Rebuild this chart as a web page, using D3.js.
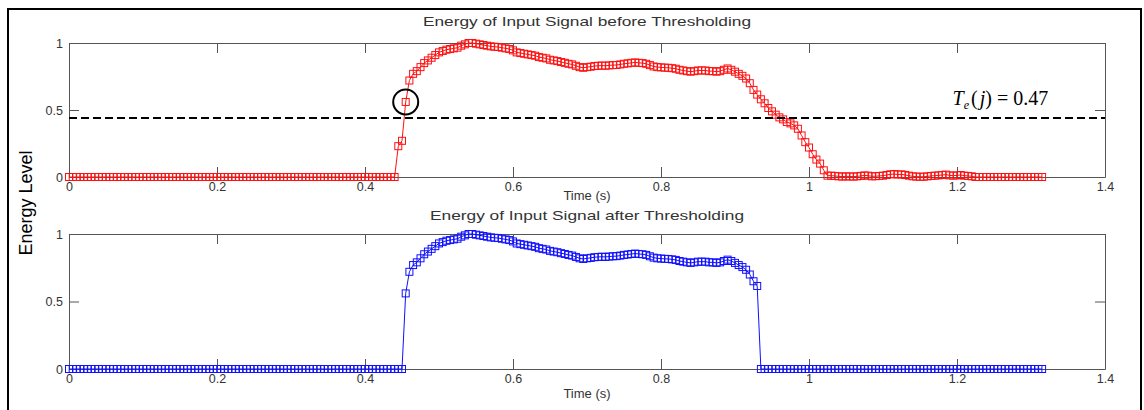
<!DOCTYPE html>
<html><head><meta charset="utf-8">
<script src="https://cdn.jsdelivr.net/npm/d3@7/dist/d3.min.js"></script>
<style>body{margin:0;background:#fff} svg{display:block}</style>
</head><body>
<svg id="chart" width="1144" height="410"></svg>
<script>
// frame spacing of the energy samples (seconds)
const sampleStep = 0.005;

// Energy before thresholding (one value per frame)
const energyBefore = [
0,0,0,0,0,0,0,0,0,0,
0,0,0,0,0,0,0,0,0,0,
0,0,0,0,0,0,0,0,0,0,
0,0,0,0,0,0,0,0,0,0,
0,0,0,0,0,0,0,0,0,0,
0,0,0,0,0,0,0,0,0,0,
0,0,0,0,0,0,0,0,0,0,
0,0,0,0,0,0,0,0,0,0,
0,0,0,0,0,0,0,0,0,0.23,
0.27,0.56,0.72,0.77,0.79,0.82,0.85,0.87,0.89,0.91,
0.93,0.94,0.95,0.955,0.96,0.965,0.98,0.99,1.0,1.0,
0.995,0.99,0.985,0.98,0.975,0.972,0.97,0.965,0.96,0.955,
0.945,0.93,0.925,0.92,0.915,0.91,0.905,0.895,0.89,0.885,
0.875,0.87,0.865,0.858,0.852,0.845,0.84,0.83,0.82,0.815,
0.82,0.823,0.828,0.83,0.832,0.83,0.833,0.835,0.836,0.84,
0.845,0.848,0.852,0.855,0.852,0.85,0.845,0.835,0.825,0.82,
0.818,0.816,0.815,0.812,0.808,0.80,0.795,0.79,0.786,0.79,
0.795,0.795,0.795,0.79,0.79,0.786,0.79,0.80,0.81,0.80,
0.786,0.77,0.755,0.735,0.70,0.65,0.615,0.58,0.55,0.515,
0.49,0.465,0.445,0.43,0.41,0.40,0.385,0.36,0.31,0.26,
0.22,0.17,0.13,0.10,0.05,0.01,0.01,0.008,0.005,0.003,
0.005,0.004,0.003,0.005,0.008,0.012,0.01,0.005,0.006,0.008,
0.01,0.015,0.02,0.022,0.018,0.02,0.015,0.01,0.005,0.003,
0.002,0.002,0.005,0.008,0.01,0.012,0.015,0.018,0.012,0.01,
0.012,0.015,0.01,0.008,0.005,0,0,0,0,0,
0,0,0,0,0,0,0,0,0,0,
0,0,0,0
];

// Energy after thresholding
const energyAfter = [
0,0,0,0,0,0,0,0,0,0,
0,0,0,0,0,0,0,0,0,0,
0,0,0,0,0,0,0,0,0,0,
0,0,0,0,0,0,0,0,0,0,
0,0,0,0,0,0,0,0,0,0,
0,0,0,0,0,0,0,0,0,0,
0,0,0,0,0,0,0,0,0,0,
0,0,0,0,0,0,0,0,0,0,
0,0,0,0,0,0,0,0,0,0,
0,0.56,0.72,0.77,0.79,0.82,0.85,0.87,0.89,0.91,
0.93,0.94,0.95,0.955,0.96,0.965,0.98,0.99,1.0,1.0,
0.995,0.99,0.985,0.98,0.975,0.972,0.97,0.965,0.96,0.955,
0.945,0.93,0.925,0.92,0.915,0.91,0.905,0.895,0.89,0.885,
0.875,0.87,0.865,0.858,0.852,0.845,0.84,0.83,0.82,0.815,
0.82,0.823,0.828,0.83,0.832,0.83,0.833,0.835,0.836,0.84,
0.845,0.848,0.852,0.855,0.852,0.85,0.845,0.835,0.825,0.82,
0.818,0.816,0.815,0.812,0.808,0.80,0.795,0.79,0.786,0.79,
0.795,0.795,0.795,0.79,0.79,0.786,0.79,0.80,0.81,0.80,
0.786,0.77,0.755,0.735,0.70,0.65,0.615,0,0,0,
0,0,0,0,0,0,0,0,0,0,
0,0,0,0,0,0,0,0,0,0,
0,0,0,0,0,0,0,0,0,0,
0,0,0,0,0,0,0,0,0,0,
0,0,0,0,0,0,0,0,0,0,
0,0,0,0,0,0,0,0,0,0,
0,0,0,0,0,0,0,0,0,0,
0,0,0,0
];

const thresholdLevel = 0.44;          // where the dashed line is drawn
const thresholdText = "0.47";         // value printed in the annotation
const highlightIndex = 91;            // circled sample
const xTicks = [0, 0.2, 0.4, 0.6, 0.8, 1, 1.2, 1.4];
const xTickLabels = ["0", "0.2", "0.4", "0.6", "0.8", "1", "1.2", "1.4"];
const yTicks = [0, 0.5, 1];
const yTickLabels = ["0", "0.5", "1"];
const panelTitles = ["Energy of Input Signal before Thresholding", "Energy of Input Signal after Thresholding"];
const xAxisTitle = "Time (s)";
const yAxisTitle = "Energy Level";

const svg = d3.select("#chart");
const font = "'Liberation Sans', Arial, sans-serif";
const axisColor = "#555";
const textColor = "#333";

// outer frame
svg.append("rect").attr("x", 8).attr("y", 9).attr("width", 1133).attr("height", 420)
  .attr("fill", "#fff").attr("stroke", "#000").attr("stroke-width", 2);

const x = d3.scaleLinear().domain([0, 1.4]).range([69, 1105]);

const panels = [
  { data: energyBefore, top: 43, bottom: 177, color: "#ff1010", title: panelTitles[0], titleLen: 328, titleY: 26, xlabY: 200 },
  { data: energyAfter,  top: 234, bottom: 369, color: "#1010ff", title: panelTitles[1], titleLen: 314, titleY: 220, xlabY: 398 }
];

panels.forEach((p, pi) => {
  const y = d3.scaleLinear().domain([0, 1]).range([p.bottom, p.top]);
  p.y = y;
  const g = svg.append("g");

  const styleAxis = sel => {
    sel.selectAll("path").attr("stroke", axisColor);
    sel.selectAll("line").attr("stroke", axisColor);
    sel.selectAll("text").attr("fill", textColor).style("font-family", font).style("font-size", "12.5px");
  };

  g.append("g").attr("transform", `translate(0,${p.bottom})`)
    .call(d3.axisBottom(x).tickValues(xTicks).tickFormat((d, i) => xTickLabels[i]).tickSize(-10).tickSizeOuter(0).tickPadding(5))
    .call(styleAxis);
  g.append("g").attr("transform", `translate(0,${p.top})`)
    .call(d3.axisTop(x).tickValues(xTicks).tickFormat("").tickSize(-10).tickSizeOuter(0))
    .call(styleAxis);
  g.append("g").attr("transform", `translate(${x.range()[0]},0)`)
    .call(d3.axisLeft(y).tickValues(yTicks).tickFormat((d, i) => yTickLabels[i]).tickSize(-10).tickSizeOuter(0).tickPadding(6))
    .call(styleAxis);
  g.append("g").attr("transform", `translate(${x.range()[1]},0)`)
    .call(d3.axisRight(y).tickValues(yTicks).tickFormat("").tickSize(-10).tickSizeOuter(0))
    .call(styleAxis);

  // titles
  const cx = (x.range()[0] + x.range()[1]) / 2;
  g.append("text").attr("x", cx).attr("y", p.titleY).attr("text-anchor", "middle")
    .attr("textLength", p.titleLen).attr("lengthAdjust", "spacingAndGlyphs")
    .style("font-family", font).style("font-size", "13px").attr("fill", textColor).text(p.title);
  g.append("text").attr("x", cx).attr("y", p.xlabY).attr("text-anchor", "middle")
    .style("font-family", font).style("font-size", "13px").attr("fill", textColor).text(xAxisTitle);

  const pts = p.data.map((v, i) => [i * sampleStep, v]);
  g.append("path").datum(pts)
    .attr("fill", "none").attr("stroke", p.color).attr("stroke-width", 1)
    .attr("d", d3.line().x(d => x(d[0])).y(d => y(d[1])));
  g.selectAll("rect.m").data(pts).enter().append("rect").attr("class", "m")
    .attr("x", d => x(d[0]) - 3.5).attr("y", d => y(d[1]) - 3.5)
    .attr("width", 7).attr("height", 7)
    .attr("fill", "none").attr("stroke", p.color).attr("stroke-width", 1);
});

// threshold line and annotation on the first panel
const p0 = panels[0];
svg.append("line")
  .attr("x1", x(0)).attr("x2", x(1.4))
  .attr("y1", p0.y(thresholdLevel)).attr("y2", p0.y(thresholdLevel))
  .attr("stroke", "#000").attr("stroke-width", 2).attr("stroke-dasharray", "8,4");

svg.append("circle")
  .attr("cx", x(highlightIndex * sampleStep)).attr("cy", p0.y(energyBefore[highlightIndex]))
  .attr("r", 12.5).attr("fill", "none").attr("stroke", "#000").attr("stroke-width", 2);

const ann = svg.append("text")
  .attr("x", x(1.194)).attr("y", p0.y(0.54))
  .style("font-family", "'Liberation Serif', 'Times New Roman', serif").style("font-size", "20px").attr("fill", "#000");
ann.append("tspan").style("font-style", "italic").text("T");
ann.append("tspan").style("font-style", "italic").style("font-size", "12px").attr("dy", 4).text("e");
ann.append("tspan").attr("dy", -4).attr("dx", 2).text("(");
ann.append("tspan").style("font-style", "italic").attr("dx", 2).text("j");
ann.append("tspan").text(") = " + thresholdText);

// shared y-axis title
svg.append("text")
  .attr("transform", "translate(32,203) rotate(-90)")
  .attr("text-anchor", "middle")
  .style("font-family", font).style("font-size", "18px").attr("fill", "#000")
  .text(yAxisTitle);
</script>
</body></html>
